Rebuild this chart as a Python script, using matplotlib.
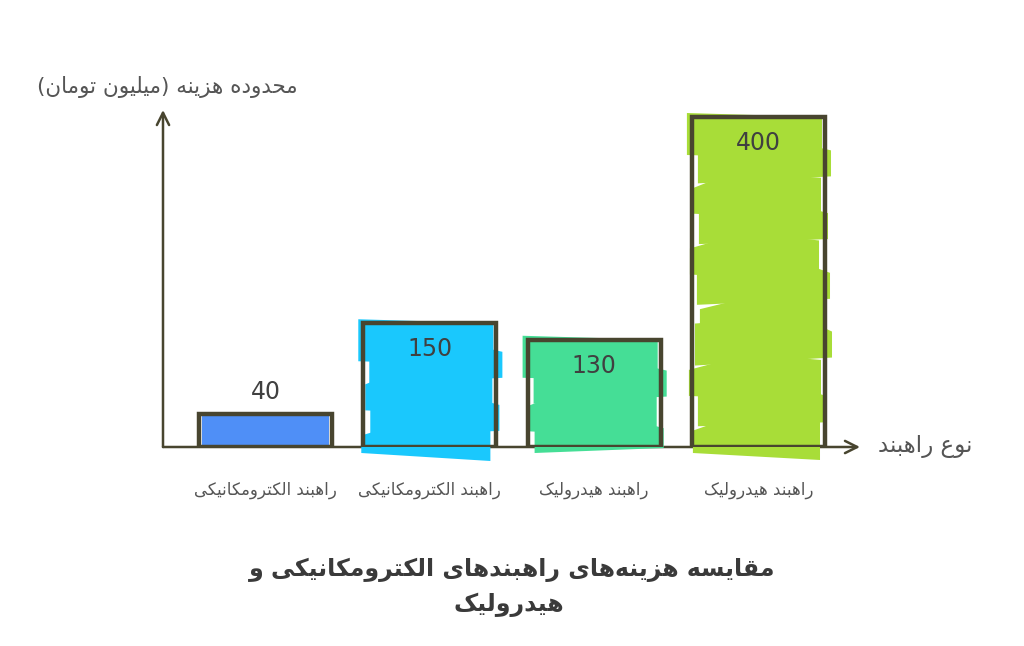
import matplotlib
matplotlib.use("Agg")
import matplotlib.pyplot as plt
from matplotlib.patches import Polygon
import numpy as np

# ---- data ----
categories = ["راهبند الکترومکانیکی", "راهبند الکترومکانیکی", "راهبند هیدرولیک", "راهبند هیدرولیک"]
costs = [40, 150, 130, 400]
value_labels = ["40", "150", "130", "400"]
bar_colors = ["#4f8ff7", "#1ac8fd", "#45de96", "#a8dd38"]
y_title = "محدوده هزینه (میلیون تومان)"
x_title = "نوع راهبند"
title_lines = ["مقایسه هزینه‌های راهبندهای الکترومکانیکی و", "هیدرولیک"]

INK = "#48452f"
TEXT = "#555555"

# isolated, final, initial, medial presentation forms
FORMS = {
    '\u0627': ('\uFE8D', '\uFE8E', None, None),
    '\u0628': ('\uFE8F', '\uFE90', '\uFE91', '\uFE92'),
    '\u062A': ('\uFE95', '\uFE96', '\uFE97', '\uFE98'),
    '\u062D': ('\uFEA1', '\uFEA2', '\uFEA3', '\uFEA4'),
    '\u062F': ('\uFEA9', '\uFEAA', None, None),
    '\u0631': ('\uFEAD', '\uFEAE', None, None),
    '\u0632': ('\uFEAF', '\uFEB0', None, None),
    '\u0633': ('\uFEB1', '\uFEB2', '\uFEB3', '\uFEB4'),
    '\u0639': ('\uFEC9', '\uFECA', '\uFECB', '\uFECC'),
    '\u0642': ('\uFED5', '\uFED6', '\uFED7', '\uFED8'),
    '\u06A9': ('\uFB8E', '\uFB8F', '\uFB90', '\uFB91'),
    '\u0644': ('\uFEDD', '\uFEDE', '\uFEDF', '\uFEE0'),
    '\u0645': ('\uFEE1', '\uFEE2', '\uFEE3', '\uFEE4'),
    '\u0646': ('\uFEE5', '\uFEE6', '\uFEE7', '\uFEE8'),
    '\u0647': ('\uFEE9', '\uFEEA', '\uFEEB', '\uFEEC'),
    '\u0648': ('\uFEED', '\uFEEE', None, None),
    '\u06CC': ('\uFBFC', '\uFBFD', '\uFBFE', '\uFBFF'),
}


def shape(text):
    # join letters and put them in visual (left to right) order
    out = []
    for i, ch in enumerate(text):
        if ch not in FORMS:
            out.append(ch)
            continue
        prev = text[i - 1] if i > 0 else ''
        nxt = text[i + 1] if i < len(text) - 1 else ''
        jp = prev in FORMS and FORMS[prev][2] is not None
        jn = FORMS[ch][2] is not None and nxt in FORMS
        iso, fin, ini, med = FORMS[ch]
        if jp and jn:
            out.append(med)
        elif jp:
            out.append(fin)
        elif jn:
            out.append(ini)
        else:
            out.append(iso)
    s = ''.join(out).replace('\u200c', '')[::-1]
    return s.translate(str.maketrans('()', ')('))


def sketch_fill(ax, xc, w, h, color, px_x, px_y):
    # hand drawn looking fill: solid core plus tilted bands with notches at the edges
    w_px = w * px_x
    h_px = h * px_y
    x0 = xc - w / 2
    if h_px < 60:
        ax.bar(xc, h, w * 0.96, color=color, zorder=2)
        return

    def poly(pts):
        pts = [(x0 + px / px_x, py / px_y) for px, py in pts]
        ax.add_patch(Polygon(pts, closed=True, facecolor=color, edgecolor='none',
                             zorder=2, clip_on=False))

    poly([(34, 4), (w_px - 34, 4), (w_px - 34, h_px - 30), (34, h_px - 30)])
    band = 42.0
    n = int(np.ceil((h_px + 10) / 32.0))
    pitch = (h_px + 4) / n
    dl = [-5, 6, 2, 7, -2, 5, 8, 3, -3, 6, 1]
    dr = [3, -6, 4, -3, 6, -5, 2, -7, 4, -2, 5]
    tilt = [-4, 7, -6, 5, -8, 6, -5, 8, -6, 4, -7]
    notch = [50, 70, 40, 60, 55, 45, 65, 35, 60, 50, 45]
    for i in range(n):
        top = h_px + 6 - i * pitch
        if i == 0:
            top = h_px + 4
        bot = max(top - band, -6)
        l = dl[i % len(dl)]
        r = w_px - dr[i % len(dr)]
        t = tilt[i % len(tilt)]
        d = notch[i % len(notch)]
        if i == 0:
            poly([(l, top), (r, top + t), (r, bot + t), (l, bot)])
        elif i % 2 == 0:
            # wedge notch cut in from the left edge
            poly([(l, top - 16), (l + d, top), (r, top + t), (r, bot + t), (l, bot)])
        else:
            # wedge notch cut in from the right edge
            poly([(l, top), (r - d, top + t), (r, top + t - 16), (r, bot + t), (l, bot)])


plt.rcParams['font.family'] = ['DejaVu Sans']

fig = plt.figure(figsize=(10.24, 6.46), dpi=100)
ax_w, ax_h = 697, 337
ax = fig.add_axes([163 / 1024, 199 / 646, ax_w / 1024, ax_h / 646])
xmin, xmax = -0.624, 3.618
ymin, ymax = 0, 408.5
ax.set_xlim(xmin, xmax)
ax.set_ylim(ymin, ymax)
ax.axis('off')
px_x = ax_w / (xmax - xmin)
px_y = ax_h / (ymax - ymin)

x = np.arange(len(costs))
bw = 0.81
for xi, v, c in zip(x, costs, bar_colors):
    sketch_fill(ax, xi, bw, v, c, px_x, px_y)
ax.bar(x, costs, bw, fill=False, edgecolor=INK, linewidth=3.2, zorder=3)

for xi, v, lab in zip(x, costs, value_labels):
    if v * px_y > 60:
        ax.text(xi, v - 26 / px_y, lab, ha='center', va='center', fontsize=17,
                color="#404040", zorder=4)
    else:
        ax.text(xi, v + 22 / px_y, lab, ha='center', va='center', fontsize=17,
                color="#404040", zorder=4)

# axes as arrows
arrow = dict(arrowstyle='->', lw=1.8, color=INK, mutation_scale=22, shrinkA=0, shrinkB=0)
ax.annotate('', xy=(0, 1), xytext=(0, 0), xycoords='axes fraction', arrowprops=arrow, zorder=1)
ax.annotate('', xy=(1, 0), xytext=(0, 0), xycoords='axes fraction', arrowprops=arrow, zorder=1)

for xi, cat in zip(x, categories):
    ax.text(xi, -43 / px_y, shape(cat), ha='center', va='center', fontsize=12,
            color=TEXT)

fig.text(167 / 1024, 1 - 87 / 646, shape(y_title), ha='center', va='center',
         fontsize=15.5, color=TEXT)
fig.text(878 / 1024, 1 - 446 / 646, shape(x_title), ha='left', va='center',
         fontsize=16.5, color=TEXT)
fig.text(512 / 1024, 1 - 570 / 646, shape(title_lines[0]), ha='center', va='center',
         fontsize=17, fontweight='bold', color="#3a3a3a")
fig.text(509 / 1024, 1 - 605 / 646, shape(title_lines[1]), ha='center', va='center',
         fontsize=17, fontweight='bold', color="#3a3a3a")

fig.savefig("out.png", dpi=100, facecolor='white')
plt.close(fig)
